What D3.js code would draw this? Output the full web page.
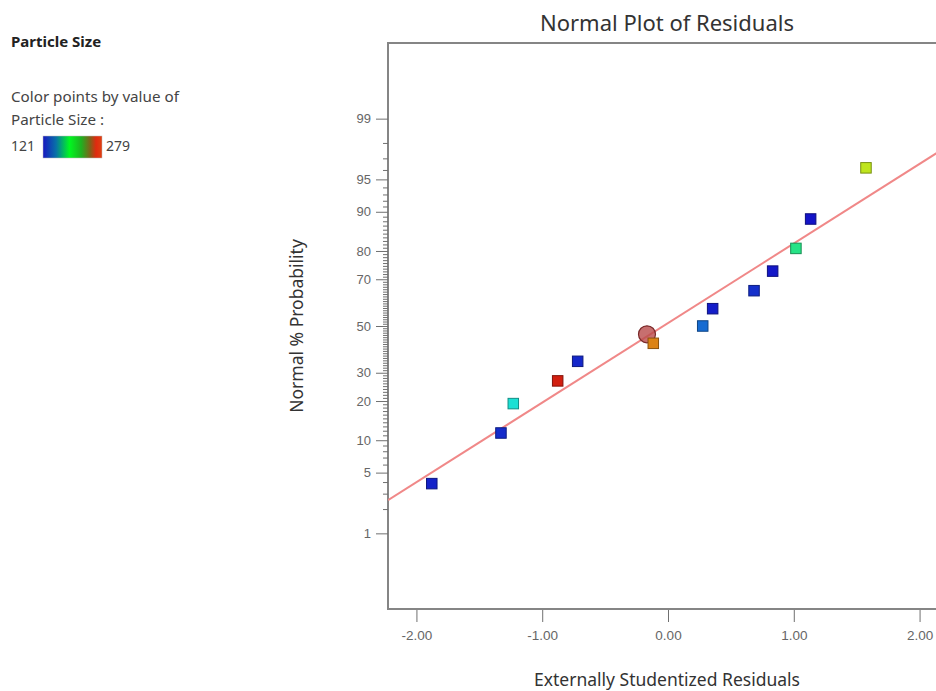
<!DOCTYPE html>
<html><head><meta charset="utf-8">
<script src="https://cdn.jsdelivr.net/npm/d3@7"></script>
<style>body{margin:0;background:#fff;} svg{display:block;font-family:"Noto Sans",sans-serif;}</style>
</head><body><svg id="chart" width="936" height="691"></svg>
<script>
// ---- data ----
const residuals     = [-1.878, -1.328, -1.230, -0.877, -0.718, -0.117, 0.276, 0.355, 0.684, 0.832, 1.017, 1.134, 1.574];
const probabilities = [3.85, 11.5, 19.2, 26.9, 34.6, 42.3, 50, 57.7, 65.4, 73.1, 80.8, 88.5, 96.2];
const particleSize  = [124, 126, 163, 276, 125, 257, 139, 123, 127, 122, 180, 121, 232];
const highlightResidual    = [-0.167];
const highlightProbability = [46.3];
const fitResidual    = [-2.226, 2.226];
const fitProbability = [2.54, 97.83];
const xTicks = [-2, -1, 0, 1, 2];
const yMajorTicks = [1, 5, 10, 20, 30, 50, 70, 80, 90, 95, 99];
const yMinorTicks = [2,3,4,6,7,8,9,11,12,13,14,15,16,17,18,19,21,22,23,24,25,26,27,28,29,
  31,32,33,34,35,36,37,38,39,40,41,42,43,44,45,46,47,48,49,51,52,53,54,55,56,57,58,59,60,
  61,62,63,64,65,66,67,68,69,71,72,73,74,75,76,77,78,79,81,82,83,84,85,86,87,88,89,
  91,92,93,94,96,97,98];
const colorRange = [121, 279];

// inverse normal CDF (Acklam)
function probit(p){
  const a=[-3.969683028665376e+01,2.209460984245205e+02,-2.759285104469687e+02,1.383577518672690e+02,-3.066479806614716e+01,2.506628277459239e+00];
  const b=[-5.447609879822406e+01,1.615858368580409e+02,-1.556989798598866e+02,6.680131188771972e+01,-1.328068155288572e+01];
  const c=[-7.784894002430293e-03,-3.223964580411365e-01,-2.400758277161838e+00,-2.549732539343734e+00,4.374664141464968e+00,2.938163982698783e+00];
  const d=[7.784695709041462e-03,3.224671290700398e-01,2.445134137142996e+00,3.754408661907416e+00];
  const pl=0.02425, ph=1-pl; let q,r;
  if(p<pl){q=Math.sqrt(-2*Math.log(p));return (((((c[0]*q+c[1])*q+c[2])*q+c[3])*q+c[4])*q+c[5])/((((d[0]*q+d[1])*q+d[2])*q+d[3])*q+1);}
  if(p>ph){q=Math.sqrt(-2*Math.log(1-p));return -(((((c[0]*q+c[1])*q+c[2])*q+c[3])*q+c[4])*q+c[5])/((((d[0]*q+d[1])*q+d[2])*q+d[3])*q+1);}
  q=p-0.5;r=q*q;return (((((a[0]*r+a[1])*r+a[2])*r+a[3])*r+a[4])*r+a[5])*q/(((((b[0]*r+b[1])*r+b[2])*r+b[3])*r+b[4])*r+1);
}
const z = p => probit(p/100);

const svg = d3.select("#chart");
const L = 388, R = 948, T = 43, B = 609;
const x = d3.scaleLinear().domain([-2.226, 2.226]).range([L, R]);
const y = d3.scaleLinear().domain([-3.175, 3.175]).range([B, T]);
const color = d3.scaleLinear()
  .domain([colorRange[0], (colorRange[0]+colorRange[1])/2, colorRange[1]])
  .range([d3.hsl(240,0.82,0.43), d3.hsl(120,0.75,0.55), d3.hsl(0,0.86,0.44)])
  .interpolate(d3.interpolateHsl);

// title
svg.append("text").attr("x", 667).attr("y", 31).attr("text-anchor","middle")
  .attr("font-size", 22).attr("fill","#333").text("Normal Plot of Residuals");

// clip
svg.append("clipPath").attr("id","plotclip").append("rect")
  .attr("x", L).attr("y", T).attr("width", R-L).attr("height", B-T);

// frame
svg.append("rect").attr("x", L).attr("y", T).attr("width", R-L).attr("height", B-T)
  .attr("fill","none").attr("stroke","#858585").attr("stroke-width",2);

// y axis majors
const yAxis = d3.axisLeft(y).tickValues(yMajorTicks.map(z)).tickSize(12).tickPadding(5)
  .tickFormat((d,i)=>yMajorTicks[i]);
const gy = svg.append("g").attr("transform",`translate(${L},0)`).call(yAxis);
gy.select(".domain").remove();
gy.selectAll("line").attr("stroke","#707070");
gy.selectAll("text").attr("font-size",13).attr("fill","#666");
const yMinor = d3.axisLeft(y).tickValues(yMinorTicks.map(z)).tickSize(5).tickFormat("");
const gym = svg.append("g").attr("transform",`translate(${L},0)`).call(yMinor);
gym.select(".domain").remove();
gym.selectAll("line").attr("stroke","#707070");

// x axis
const xAxis = d3.axisBottom(x).tickValues(xTicks).tickSize(12).tickPadding(8)
  .tickFormat(d=>d.toFixed(2));
const gx = svg.append("g").attr("transform",`translate(0,${B+1})`).call(xAxis);
gx.select(".domain").remove();
gx.selectAll("line").attr("stroke","#707070");
gx.selectAll("text").attr("font-size",13.5).attr("fill","#666");

// axis titles
svg.append("text").attr("x", 667).attr("y", 686).attr("text-anchor","middle")
  .attr("font-size", 17.5).attr("fill","#333").text("Externally Studentized Residuals");
svg.append("text").attr("transform","translate(303,326) rotate(-90)").attr("text-anchor","middle")
  .attr("font-size", 17.5).attr("fill","#333").text("Normal % Probability");

// fit line
const plot = svg.append("g").attr("clip-path","url(#plotclip)");
plot.append("path")
  .datum(fitResidual.map((r,i)=>[r, fitProbability[i]]))
  .attr("d", d3.line().x(d=>x(d[0])).y(d=>y(z(d[1]))))
  .attr("stroke","#f08888").attr("stroke-width",2).attr("fill","none");

// highlight circle
plot.selectAll("circle.hl").data(highlightResidual.map((r,i)=>[r, highlightProbability[i]]))
  .join("circle").attr("class","hl")
  .attr("cx", d=>x(d[0])).attr("cy", d=>y(z(d[1]))).attr("r", 8.5)
  .attr("fill","rgba(185,75,75,0.8)").attr("stroke","#7a2a2a").attr("stroke-width",1.2);

// points
const s = 10.5;
plot.selectAll("rect.pt").data(residuals.map((r,i)=>({r, p:probabilities[i], v:particleSize[i]})))
  .join("rect").attr("class","pt")
  .attr("x", d=>x(d.r)-s/2).attr("y", d=>y(z(d.p))-s/2).attr("width", s).attr("height", s)
  .attr("fill", d=>color(d.v)).attr("stroke", d=>d3.color(color(d.v)).darker(1.3)).attr("stroke-width",1);

// legend
svg.append("text").attr("x",11).attr("y",47).attr("font-size",15).attr("font-weight","bold")
  .attr("fill","#222").text("Particle Size");
svg.append("text").attr("x",11).attr("y",102).attr("font-size",15.2).attr("fill","#444").text("Color points by value of");
svg.append("text").attr("x",11).attr("y",125).attr("font-size",15.2).attr("fill","#444").text("Particle Size :");
svg.append("text").attr("x",11).attr("y",151).attr("font-size",14).attr("fill","#444").text(colorRange[0]);
svg.append("text").attr("x",106).attr("y",151).attr("font-size",14).attr("fill","#444").text(colorRange[1]);
const grad = svg.append("defs").append("linearGradient").attr("id","lg");
[[0,"#1818c0"],[0.22,"#0870a8"],[0.45,"#00f820"],[0.65,"#20b020"],[0.8,"#806018"],[0.9,"#e02a10"],[1,"#e04010"]]
  .forEach(([o,c])=>grad.append("stop").attr("offset",o).attr("stop-color",c));
svg.append("rect").attr("x",43).attr("y",136).attr("width",59).attr("height",22)
  .attr("fill","url(#lg)").attr("stroke","#bbb").attr("stroke-width",0.5);
</script></body></html>
